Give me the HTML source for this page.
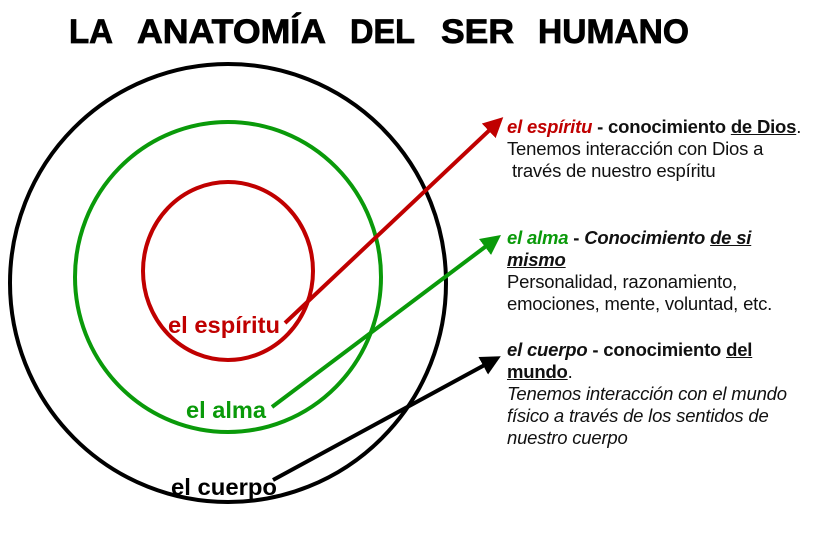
<!DOCTYPE html>
<html><head><meta charset="utf-8"><style>
body{margin:0;width:826px;height:533px;background:#fff;overflow:hidden;position:relative;font-family:"Liberation Sans",sans-serif}
.t{position:absolute;left:507px;font-size:18.5px;line-height:22px;color:#111;white-space:nowrap;letter-spacing:-0.2px}
b{font-weight:bold}
u{text-decoration:underline}
</style></head><body>
<svg width="826" height="533" style="position:absolute;left:0;top:0">
<defs>
<marker id="ar" markerWidth="5" markerHeight="5" refX="2.5" refY="2.5" orient="auto" markerUnits="strokeWidth"><path d="M0,0 L5,2.5 L0,5 z" fill="#c00000"/></marker>
<marker id="ag" markerWidth="5" markerHeight="5" refX="2.5" refY="2.5" orient="auto" markerUnits="strokeWidth"><path d="M0,0 L5,2.5 L0,5 z" fill="#0a9a0a"/></marker>
<marker id="ab" markerWidth="5" markerHeight="5" refX="2.5" refY="2.5" orient="auto" markerUnits="strokeWidth"><path d="M0,0 L5,2.5 L0,5 z" fill="#000"/></marker>
</defs>
<ellipse cx="228" cy="283" rx="218" ry="219" fill="none" stroke="#000" stroke-width="4"/>
<ellipse cx="228" cy="277" rx="153" ry="155" fill="none" stroke="#0a9a0a" stroke-width="4"/>
<ellipse cx="228" cy="271" rx="85" ry="89" fill="none" stroke="#c00000" stroke-width="4"/>
<line x1="285" y1="323" x2="496" y2="124" stroke="#c00000" stroke-width="4" marker-end="url(#ar)"/>
<line x1="272" y1="407" x2="493" y2="241" stroke="#0a9a0a" stroke-width="4" marker-end="url(#ag)"/>
<line x1="273" y1="480" x2="492" y2="361" stroke="#000" stroke-width="4" marker-end="url(#ab)"/>
<text x="168" y="333" font-family="Liberation Sans" font-weight="bold" font-size="23" fill="#c00000" textLength="112" lengthAdjust="spacingAndGlyphs">el espíritu</text>
<text x="186" y="418" font-family="Liberation Sans" font-weight="bold" font-size="23" fill="#0a9a0a" textLength="80" lengthAdjust="spacingAndGlyphs">el alma</text>
<text x="171" y="495" font-family="Liberation Sans" font-weight="bold" font-size="23" fill="#000" textLength="106" lengthAdjust="spacingAndGlyphs">el cuerpo</text>
<g font-family="Liberation Sans" font-weight="bold" font-size="34" fill="#000" stroke="#000" stroke-width="0.8">
<text x="69" y="43" textLength="44" lengthAdjust="spacingAndGlyphs">LA</text>
<text x="137" y="43" textLength="189" lengthAdjust="spacingAndGlyphs">ANATOMÍA</text>
<text x="350" y="43" textLength="65" lengthAdjust="spacingAndGlyphs">DEL</text>
<text x="441" y="43" textLength="73" lengthAdjust="spacingAndGlyphs">SER</text>
<text x="538" y="43" textLength="151" lengthAdjust="spacingAndGlyphs">HUMANO</text>
</g>
</svg>
<div class="t" style="top:116px"><b><i style="color:#c00000">el espíritu</i> - conocimiento <u>de Dios</u></b>.<br>Tenemos interacción con Dios a<br>&nbsp;través de nuestro espíritu</div>
<div class="t" style="top:227px"><b><i style="color:#0a9a0a">el alma</i> - <i>Conocimiento <u>de si</u></i></b><br><b><i><u>mismo</u></i></b><br>Personalidad, razonamiento,<br>emociones, mente, voluntad, etc.</div>
<div class="t" style="top:339px"><b><i>el cuerpo</i> - conocimiento <u>del</u></b><br><b><u>mundo</u></b>.<br><i>Tenemos interacción con el mundo<br>físico a través de los sentidos de<br>nuestro cuerpo</i></div>
</body></html>
